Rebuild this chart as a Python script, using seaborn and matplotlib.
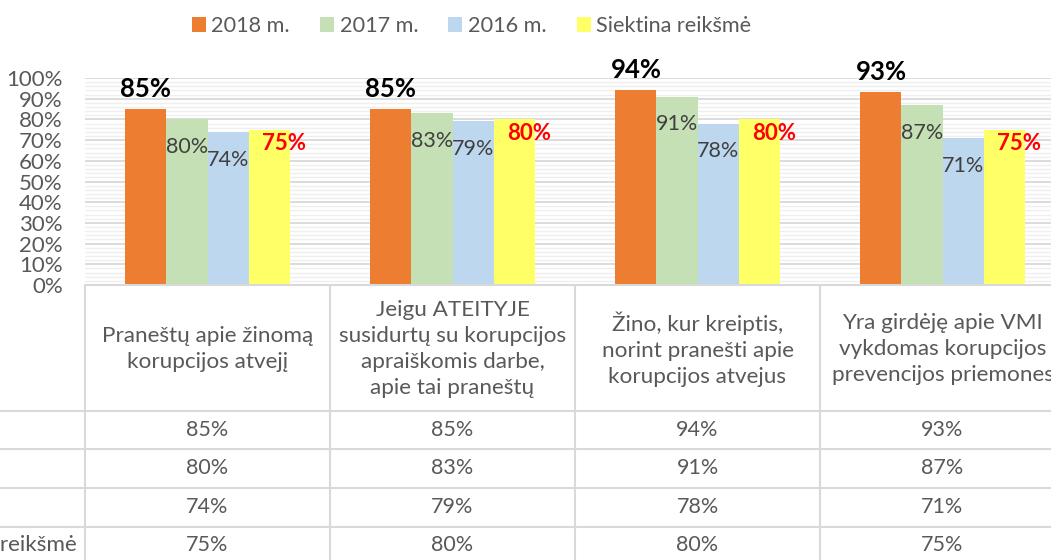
import numpy as np
import pandas as pd
import matplotlib
matplotlib.use("Agg")
import matplotlib.pyplot as plt
import matplotlib.transforms as mtransforms
from matplotlib.ticker import MultipleLocator
import seaborn as sns

categories = [
    "Praneštų apie žinomą\nkorupcijos atvejį",
    "Jeigu ATEITYJE\nsusidurtų su korupcijos\napraiškomis darbe,\napie tai praneštų",
    "Žino, kur kreiptis,\nnorint pranešti apie\nkorupcijos atvejus",
    "Yra girdėję apie VMI\nvykdomas korupcijos\nprevencijos priemones",
]
series = ["2018 m.", "2017 m.", "2016 m.", "Siektina reikšmė"]
v2018 = [85, 85, 94, 93]
v2017 = [80, 83, 91, 87]
v2016 = [74, 79, 78, 71]
target = [75, 80, 80, 75]
colors = ["#ED7D31", "#C5E0B4", "#BDD7EE", "#FFFF66"]

df = pd.DataFrame({
    "category": categories * 4,
    "series": [s for s in series for _ in categories],
    "value": v2018 + v2017 + v2016 + target,
})

sns.set_style("white")
plt.rcParams["font.family"] = ["Lato", "DejaVu Sans"]

W, H = 1051, 560
fig = plt.figure(figsize=(W / 100, H / 100), dpi=100)
ax = fig.add_axes([85 / W, 275 / H, 980 / W, 207 / H])

sns.barplot(
    data=df, x="category", y="value", hue="series",
    order=categories, hue_order=series, palette=colors,
    width=0.67, saturation=1, linewidth=0, ax=ax,
)

ax.set_xlim(-0.5, 3.5)
ax.set_ylim(0, 100)
ax.yaxis.set_major_locator(MultipleLocator(10))
ax.yaxis.set_minor_locator(MultipleLocator(2))
ax.set_yticklabels([f"{int(t)}%" for t in ax.get_yticks()])
ax.tick_params(axis="y", which="both", length=0, pad=16, labelsize=16, labelcolor="#595959")
ax.tick_params(axis="x", length=0, labelbottom=False)
ax.set_xlabel("")
ax.set_ylabel("")
ax.set_axisbelow(True)
ax.grid(axis="y", which="minor", color="#EFEFEF", lw=1.0)
ax.grid(axis="y", which="major", color="#D9D9D9", lw=1.3)
sns.despine(ax=ax, left=True)
ax.spines["bottom"].set_color("#D9D9D9")
ax.spines["bottom"].set_linewidth(1.5)

# data labels
label_style = [
    dict(xytext=(0, 14.5), color="black", fontweight="bold", fontsize=18.5),
    dict(xytext=(0, -20), color="#404040", fontweight="normal", fontsize=15.5),
    dict(xytext=(0, -20), color="#404040", fontweight="normal", fontsize=15.5),
    dict(xytext=(11, -10), color="#FF0000", fontweight="bold", fontsize=16),
]
for cont, st in zip(ax.containers, label_style):
    for p in cont:
        h = p.get_height()
        ax.annotate(f"{h:.0f}%", (p.get_x() + p.get_width() / 2, h),
                    textcoords="offset points", ha="center", va="center",
                    annotation_clip=False, **st)

sns.move_legend(
    ax, "center left", bbox_to_anchor=(192 / W, 1 - 26 / H),
    bbox_transform=fig.transFigure, ncol=4, frameon=False, title=None,
    fontsize=15.6, handlelength=0.64, handleheight=0.64, handletextpad=0.25,
    columnspacing=1.4, borderaxespad=0, borderpad=0,
)
for t in ax.get_legend().get_texts():
    t.set_color("#595959")

# data table below the chart
trans = mtransforms.blended_transform_factory(ax.transData, fig.transFigure)
grid_c = "#D9D9D9"
row_lines = [411, 449, 488, 527]
for py in row_lines:
    ax.plot([-1.6, 3.6], [1 - py / H] * 2, color=grid_c, lw=1.5,
            transform=trans, clip_on=False)
for xv in [-0.5, 0.5, 1.5, 2.5, 3.5]:
    ax.plot([xv, xv], [1 - 286 / H, -0.05], color=grid_c, lw=1.5,
            transform=trans, clip_on=False)

for i, cat in enumerate(categories):
    ax.text(i, 1 - 349 / H, cat, transform=trans, ha="center", va="center",
            fontsize=16.2, color="#595959", linespacing=1.36)

row_centers = [430, 468, 507, 545]
for vals, py in zip([v2018, v2017, v2016, target], row_centers):
    for i, v in enumerate(vals):
        ax.text(i, 1 - py / H, f"{v}%", transform=trans, ha="center", va="center",
                fontsize=15.5, color="#595959")

# row names: left aligned, the longest one ends just left of the table edge
renderer = fig.canvas.get_renderer()
probe = fig.text(77 / W, 0.5, series[-1], ha="right", fontsize=16.2)
left_px = probe.get_window_extent(renderer).x0
probe.remove()
for name, py in zip(series, row_centers):
    fig.text(left_px / W, 1 - py / H, name, ha="left", va="center",
             fontsize=16.2, color="#595959")

fig.savefig("out.png", dpi=100)
